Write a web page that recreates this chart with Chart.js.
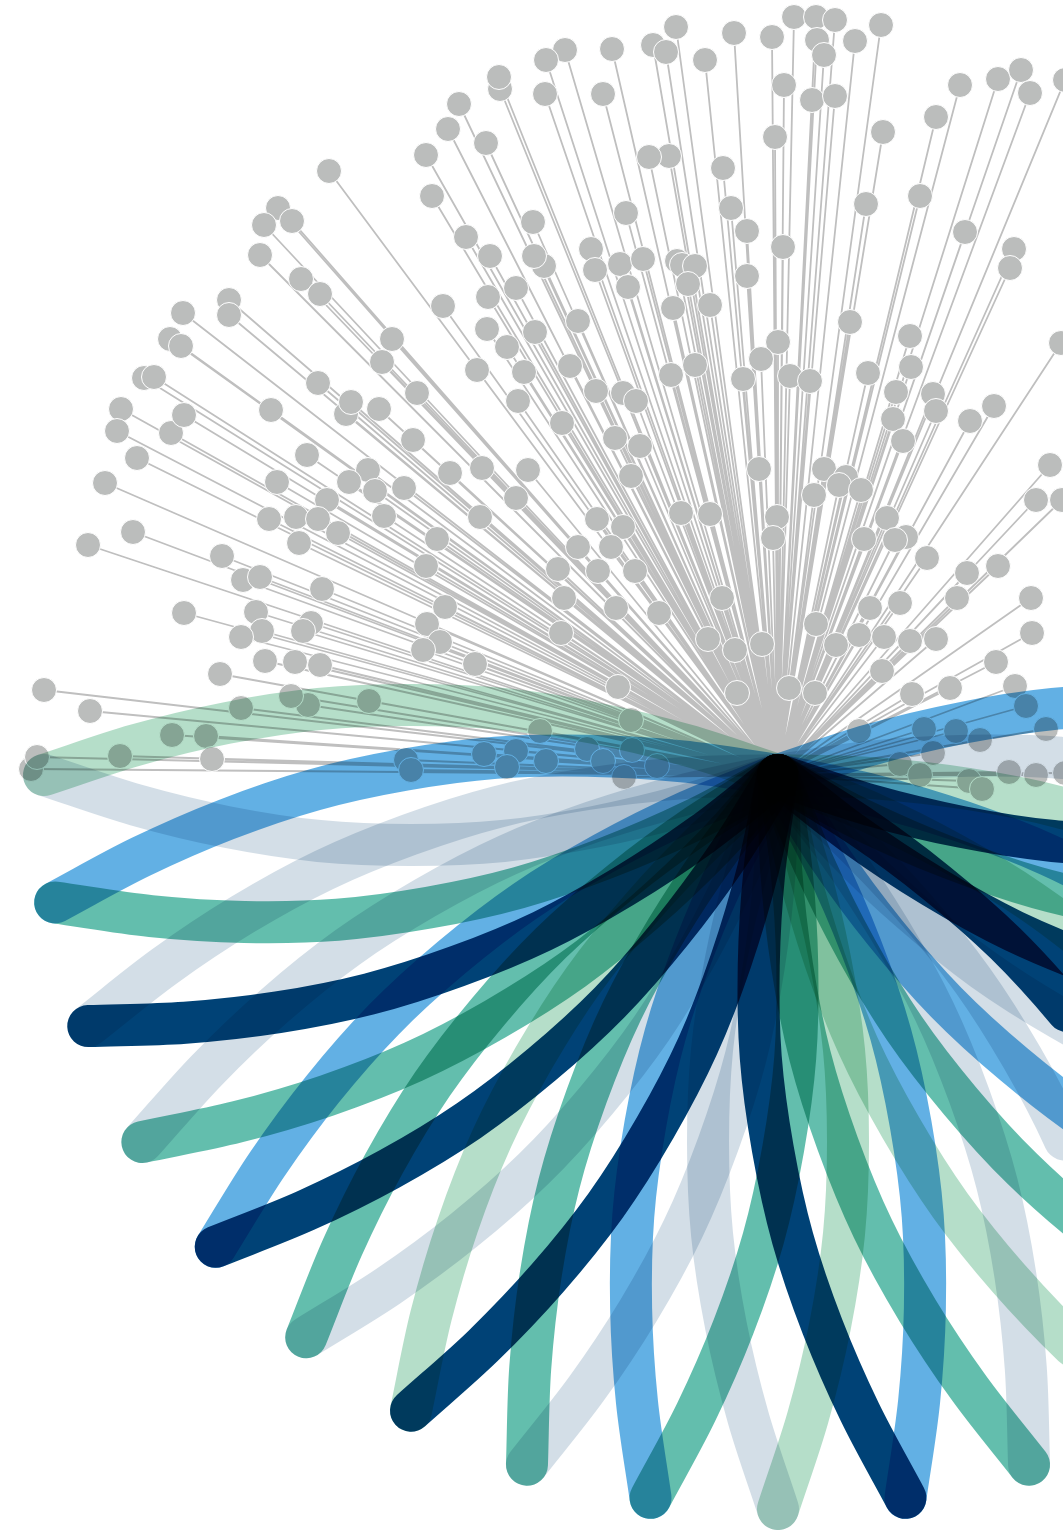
<!DOCTYPE html>
<html>
<head>
<meta charset="utf-8">
<title>Radial chart</title>
<script src="https://cdn.jsdelivr.net/npm/chart.js@4"></script>
<style>
  html, body { margin: 0; padding: 0; background: #fff; }
  canvas { display: block; }
</style>
</head>
<body>
<canvas id="chart" width="1063" height="1530"></canvas>
<script>
const dotX = [
  -449,-500,-514,-486,-518,-477,-458,-549,-549,-595,-608,-597,-386,-396,-460,-432,-427,-399,-507,-634,-624,-657,-607,-594,-661,-641,-673,-471,-410,-429,-403,-374,-501,-451,
  -482,-509,-460,-394,-440,-479,-645,-690,-556,-535,-518,-456,-594,-467,-522,-475,-516,-537,-513,-483,-458,-558,-470,-487,-537,-409,-734,-688,-606,-572,-747,-741,-658,-566,
  -102,-44,-125,-112,-166,-73,-213,-232,-278,-279,-233,-175,-319,-330,-292,-352,-109,-129,-55,-346,-47,-152,-245,-312,-31,-288,-187,-234,-244,-183,-158,-135,-101,-96,-83,-90,-31,
  -262,-150,-290,-335,-105,-68,-200,-291,-243,-271,-301,-254,-208,-107,-83,-35,-361,-182,-155,-142,-260,-216,-365,-163,-138,-147,-328,-296,-250,-262,-298,-181,-155,-97,-68,
  -341,-352,-200,-167,-220,-180,-143,-56,-214,-333,-162,-119,-351,-338,-355,-217,-70,-43,-303,-41,-160,-147,-238,-294,-262,-271,-232,-191,-175,-146,-121,-154,-372,-367,
  16,38,57,103,-6,39,77,46,6,34,57,-3,105,182,220,243,252,287,158,142,88,5,187,236,232,72,132,0,283,-17,12,32,90,133,118,155,158,115,216,192,125,272,258,284,
  -19,46,68,61,83,36,-1,-5,109,128,117,86,149,189,220,179,253,254,92,122,38,81,106,132,158,58,-16,218,104,11,37,134,172,237,248,268,81,146,178,202,155,122,142,191,204,231,258,287
];
const dotY = [
  604,567,550,554,520,496,481,475,460,462,436,429,436,413,392,361,373,366,365,397,398,366,342,360,344,317,292,320,305,293,284,287,293,275,
  258,256,256,259,242,232,243,230,219,195,198,186,162,152,163,144,144,138,114,113,110,101,70,79,67,74,85,64,40,39,6,18,19,16,
  748,742,730,723,726,715,725,715,686,698,681,681,671,646,632,620,619,618,607,579,567,562,553,538,544,519,526,509,519,505,511,516,514,510,509,491,499,
  487,488,478,469,467,470,454,446,443,428,405,403,409,400,410,396,382,384,382,374,374,352,335,337,329,299,302,307,305,277,258,256,248,262,261,
  236,209,228,228,206,204,204,177,177,168,167,162,151,133,125,142,136,125,111,82,88,55,44,21,24,8,14,26,14,25,9,-2,15,5,
  758,758,755,750,738,735,734,720,690,675,679,638,643,690,696,705,682,695,658,579,571,528,543,526,507,453,439,433,432,416,399,394,402,408,383,381,364,356,369,354,334,310,275,275,
  306,306,298,290,285,280,258,237,257,238,235,236,217,202,209,177,177,142,167,172,151,140,138,134,136,130,131,113,104,87,82,81,87,89,69,46,44,46,44,35,22,11,0,-6,-14,3,0,2
];

// petals: direction of each one in degrees from straight down, and the series on each of its two sides
const petalAngles = [-90,-80,-70,-60,-50,-40,-30,-20,-10,0,10,20,30,40,50,60,70,80,90];
const plusSide = ["gray","teal","navy","teal","navy","gray","navy","gray","teal","mint","blue","gray","gray","navy","mint","blue","mint","gray","blue"];
const minusSide = ["mint","blue","gray","gray","blue","teal","mint","teal","blue","gray","navy","teal","mint","teal","blue","gray","navy","teal","navy"];

// one side of a petal: distance along the petal and how far it bows out there
const profileAlong = [0,92,184,275,367,459,551,642,734];
const profileBow = [0,30,52,66,70,66,52,30,0];

const seriesColors = {
  blue: "#62b0e4",
  teal: "#63bead",
  mint: "#b5dec9",
  gray: "#d3dee7",
  navy: "#004276"
};

// point on one side of a petal
function petalSide(angle, sign) {
  const rad = angle * Math.PI / 180;
  return profileAlong.map(function (a, i) {
    const b = profileBow[i] * sign;
    return {
      x: a * Math.sin(rad) + b * Math.cos(rad),
      y: -a * Math.cos(rad) + b * Math.sin(rad)
    };
  });
}

// stems from the hub to every dot, one line with gaps
const stems = [];
for (let i = 0; i < dotX.length; i++) {
  stems.push({ x: 0, y: 0 }, { x: dotX[i], y: dotY[i] }, { x: null, y: null });
}

const dots = dotX.map(function (x, i) {
  return { x: x, y: dotY[i] };
});

const datasets = [];
petalAngles.forEach(function (angle, i) {
  [[1, plusSide[i]], [-1, minusSide[i]]].forEach(function (side) {
    datasets.push({
      label: "petal",
      data: petalSide(angle, side[0]),
      showLine: true,
      borderColor: seriesColors[side[1]],
      borderWidth: 42,
      borderCapStyle: "round",
      borderJoinStyle: "round",
      tension: 0.33,
      capBezierPoints: false,
      pointRadius: 0,
      clip: false,
      order: 0
    });
  });
});
datasets.push({
  label: "dots",
  data: dots,
  backgroundColor: "#bbbdbc",
  borderColor: "#ffffff",
  borderWidth: 1,
  pointRadius: 12.5,
  clip: false,
  order: 1
});
datasets.push({
  label: "stems",
  data: stems,
  showLine: true,
  spanGaps: false,
  borderColor: "#bfbfbf",
  borderWidth: 1.8,
  pointRadius: 0,
  order: 2
});

// petals darken what they cross, the hub ends up black
const multiplyPetals = {
  id: "multiplyPetals",
  beforeDraw(chart) {
    const ctx = chart.ctx;
    ctx.save();
    ctx.fillStyle = "#ffffff";
    ctx.fillRect(0, 0, chart.width, chart.height);
    ctx.restore();
  },
  beforeDatasetDraw(chart, args) {
    if (chart.data.datasets[args.index].label === "petal") {
      chart.ctx.globalCompositeOperation = "multiply";
    }
  },
  afterDatasetDraw(chart) {
    chart.ctx.globalCompositeOperation = "source-over";
  }
};

new Chart(document.getElementById("chart"), {
  type: "scatter",
  data: { datasets: datasets },
  plugins: [multiplyPetals],
  options: {
    responsive: false,
    animation: false,
    devicePixelRatio: 1,
    layout: { padding: 0, autoPadding: false },
    plugins: {
      legend: { display: false },
      tooltip: { enabled: false }
    },
    scales: {
      x: { type: "linear", display: false, min: -778, max: 285 },
      y: { type: "linear", display: false, min: -755, max: 775 }
    }
  }
});
</script>
</body>
</html>
